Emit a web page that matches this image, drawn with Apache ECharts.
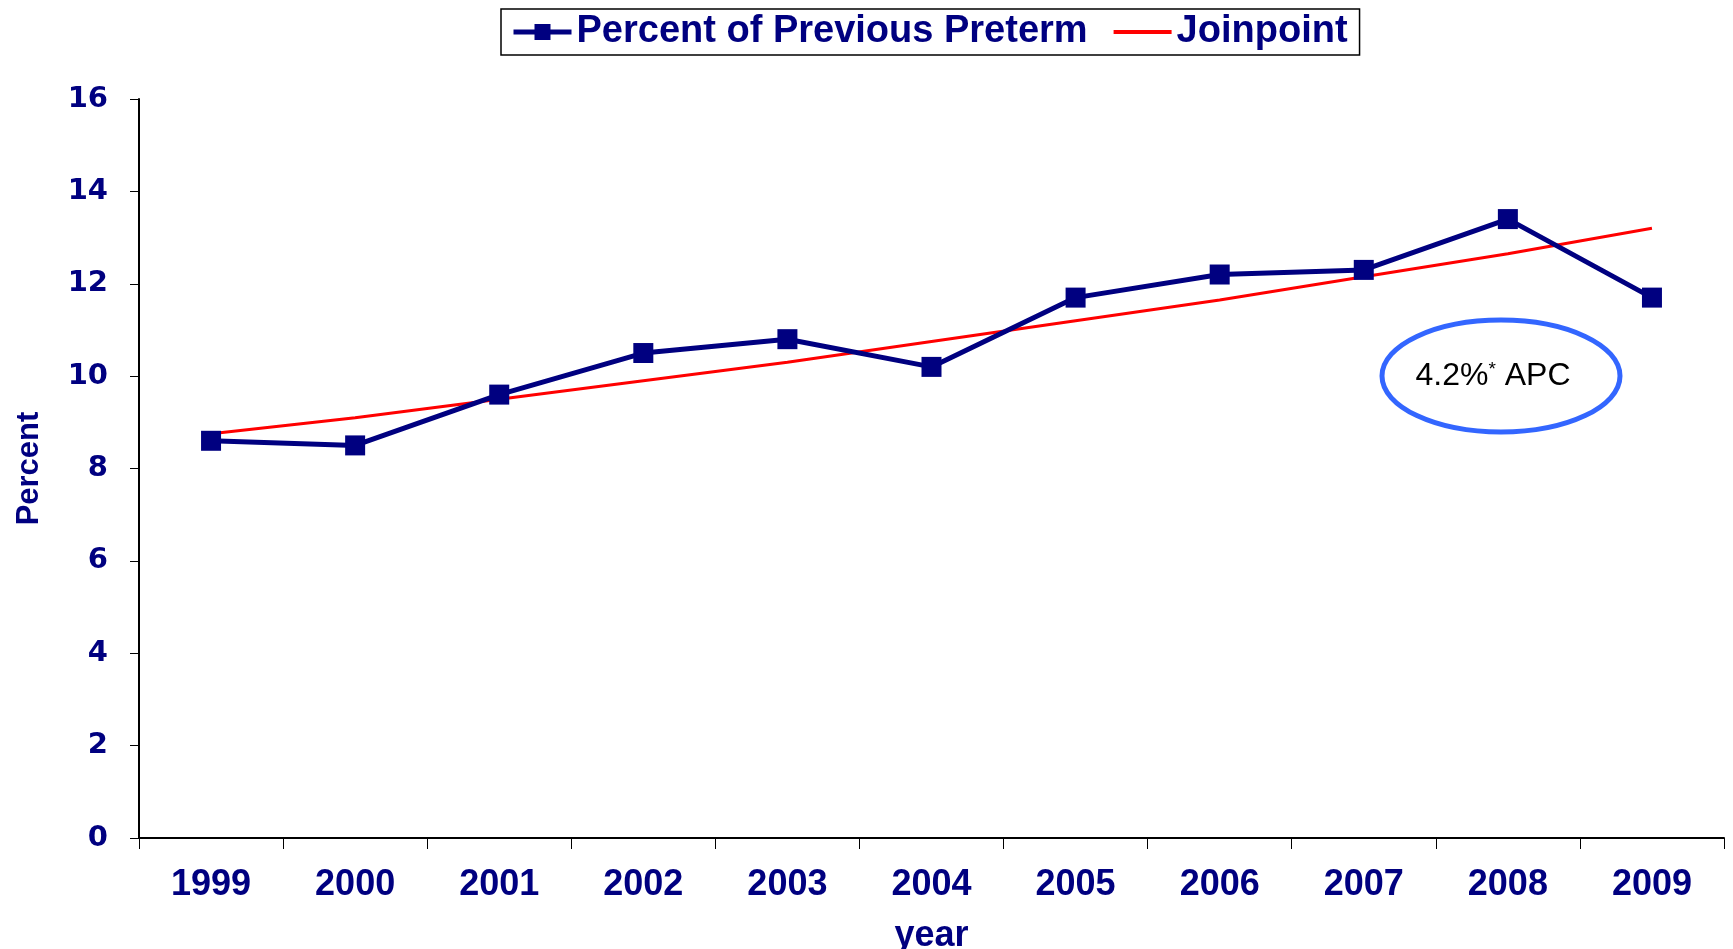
<!DOCTYPE html>
<html>
<head>
<meta charset="utf-8">
<script src="https://cdn.jsdelivr.net/npm/echarts@6/dist/echarts.min.js"></script>
<style>
  html, body { margin: 0; padding: 0; background: #fff; }
  #chart { width: 1733px; height: 949px; }
</style>
</head>
<body>
<div id="chart"></div>
<script>
// data
const years = ['1999', '2000', '2001', '2002', '2003', '2004', '2005', '2006', '2007', '2008', '2009']
const previousPreterm = [8.6, 8.5, 9.6, 10.5, 10.8, 10.2, 11.7, 12.2, 12.3, 13.4, 11.7]
const joinpoint = [8.75, 9.1, 9.5, 9.9, 10.3, 10.75, 11.2, 11.65, 12.15, 12.65, 13.2]
const yTicks = [0, 2, 4, 6, 8, 10, 12, 14, 16]

const navy = '#000080'
const boldFont = 'Liberation Sans, Arial, sans-serif'
const chart = echarts.init(document.getElementById('chart'))

const option = {
  backgroundColor: '#fff',
  animation: false,
  legend: {
    top: 9,
    left: 501,
    padding: [4, 12, 4, 10],
    borderColor: '#000',
    borderWidth: 1.5,
    itemGap: 26,
    itemWidth: 58,
    itemHeight: 20,
    textStyle: {
      color: navy,
      fontSize: 38,
      fontWeight: 'bold',
      fontFamily: boldFont
    },
    data: [
      { name: 'Percent of Previous Preterm', lineStyle: { width: 5 } },
      { name: 'Joinpoint', icon: 'path://M0,0 H60 V4 H0 Z', itemStyle: { color: '#ff0000' } }
    ]
  },
  grid: {
    left: 139,
    right: 9,
    top: 99,
    bottom: 111,
    outerBoundsMode: 'none',
    containLabel: false
  },
  xAxis: {
    type: 'category',
    data: years,
    boundaryGap: true,
    name: 'year',
    nameLocation: 'middle',
    nameGap: 80,
    nameTextStyle: {
      color: navy,
      fontSize: 36,
      fontWeight: 'bold',
      fontFamily: boldFont
    },
    axisLine: { lineStyle: { color: '#000', width: 2 } },
    axisTick: { show: true, length: 11, lineStyle: { color: '#000', width: 1 } },
    axisLabel: {
      color: navy,
      fontSize: 36,
      fontWeight: 'bold',
      margin: 29,
      fontFamily: boldFont
    },
    splitLine: { show: false }
  },
  yAxis: {
    type: 'value',
    min: yTicks[0],
    max: yTicks[yTicks.length - 1],
    interval: 2,
    name: 'Percent',
    nameLocation: 'middle',
    nameGap: 94,
    nameRotate: 90,
    nameTextStyle: {
      color: navy,
      fontSize: 31,
      fontWeight: 'bold',
      fontFamily: boldFont
    },
    axisLine: { show: true, lineStyle: { color: '#000', width: 2 } },
    axisTick: { show: true, length: 9, lineStyle: { color: '#000', width: 1 } },
    axisLabel: {
      color: navy,
      fontSize: 29,
      fontWeight: 'bold',
      margin: 31,
      fontFamily: 'DejaVu Sans, Arial Black, sans-serif'
    },
    splitLine: { show: false }
  },
  series: [
    {
      name: 'Percent of Previous Preterm',
      type: 'line',
      data: previousPreterm,
      symbol: 'rect',
      symbolSize: 20,
      itemStyle: { color: navy },
      lineStyle: { color: navy, width: 5 },
      z: 3
    },
    {
      name: 'Joinpoint',
      type: 'line',
      data: joinpoint,
      symbol: 'none',
      itemStyle: { color: '#ff0000' },
      lineStyle: { color: '#ff0000', width: 3 },
      z: 2
    }
  ],
  graphic: [
    {
      type: 'ellipse',
      shape: { cx: 1501, cy: 376, rx: 119, ry: 56 },
      style: { fill: 'none', stroke: '#3366ff', lineWidth: 5 },
      z: 10
    },
    {
      type: 'text',
      x: 1493,
      y: 376,
      style: {
        text: '{a|4.2%}{s|*}{a| APC}',
        align: 'center',
        verticalAlign: 'middle',
        rich: {
          a: { fontSize: 32, fill: '#000', fontFamily: 'Liberation Sans, Arial, sans-serif' },
          s: { fontSize: 19, fill: '#000', fontFamily: 'Liberation Sans, Arial, sans-serif', verticalAlign: 'top', padding: [0, 0, 12, 0] }
        }
      },
      z: 11
    }
  ]
}

chart.setOption(option)
</script>
</body>
</html>
